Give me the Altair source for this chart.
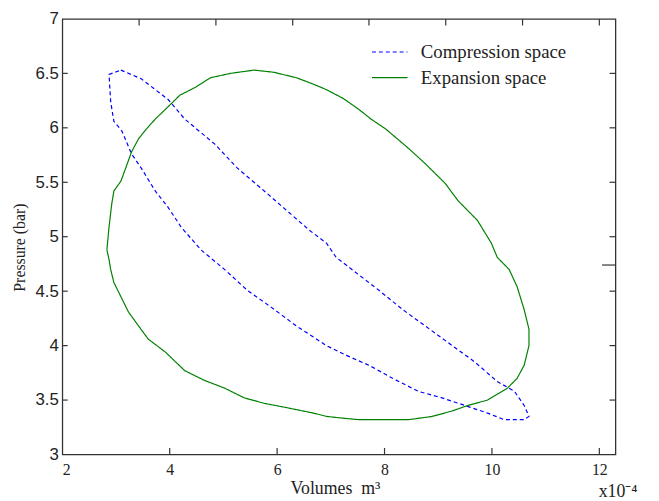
import altair as alt
import pandas as pd

# Compression space loop (volume x1e-4 m^3, pressure bar)
comp_v = [3.09, 3.47, 3.97, 4.28, 4.84, 5.26, 5.76, 6.18, 6.60, 6.92, 7.10, 7.47, 7.89, 8.34,
          8.76, 9.26, 9.68, 10.10, 10.42, 10.60, 10.69, 10.60, 10.23, 9.92, 9.50, 9.07, 8.63,
          8.15, 7.71, 7.29, 6.92, 6.36, 5.87, 5.44, 5.02, 4.58, 4.21, 3.97, 3.73, 3.47, 3.29,
          3.11, 2.96, 2.90, 2.87, 3.09]
comp_p = [6.53, 6.45, 6.26, 6.08, 5.85, 5.63, 5.42, 5.24, 5.06, 4.94, 4.81, 4.67, 4.51, 4.33,
          4.18, 4.00, 3.85, 3.67, 3.58, 3.45, 3.35, 3.32, 3.32, 3.38, 3.45, 3.52, 3.58,
          3.70, 3.82, 3.91, 4.00, 4.18, 4.36, 4.51, 4.70, 4.88, 5.09, 5.27, 5.42, 5.63, 5.76,
          5.97, 6.06, 6.24, 6.49, 6.53]

# Expansion space loop
exp_v = [2.83, 2.87, 2.92, 2.96, 3.09, 3.18, 3.29, 3.42, 3.55, 3.73, 3.92, 4.19, 4.47, 4.76,
         5.13, 5.57, 5.94, 6.36, 6.68, 6.92, 7.23, 7.52, 7.75, 8.02, 8.45, 8.76, 9.13, 9.37,
         9.73, 9.99, 10.10, 10.32, 10.47, 10.60, 10.69, 10.69, 10.60, 10.47, 10.29, 9.92, 9.55,
         9.26, 8.89, 8.45, 8.02, 7.52, 7.10, 6.92, 6.68, 6.18, 5.76, 5.39, 5.02, 4.65, 4.28,
         3.92, 3.60, 3.42, 3.23, 3.09, 2.96, 2.90, 2.87, 2.83]
exp_p = [4.88, 5.09, 5.30, 5.42, 5.51, 5.63, 5.78, 5.90, 5.98, 6.08, 6.17, 6.30, 6.37, 6.46,
         6.50, 6.53, 6.51, 6.46, 6.40, 6.35, 6.27, 6.17, 6.08, 5.99, 5.81, 5.67, 5.49, 5.33,
         5.15, 4.94, 4.81, 4.70, 4.54, 4.33, 4.15, 4.00, 3.82, 3.70, 3.61, 3.50, 3.45,
         3.40, 3.35, 3.32, 3.32, 3.32, 3.34, 3.35, 3.38, 3.43, 3.47, 3.52, 3.61, 3.68, 3.77,
         3.94, 4.06, 4.18, 4.31, 4.45, 4.58, 4.70, 4.79, 4.88]

series_names = ["Compression space", "Expansion space"]
series_colors = ["#0000ff", "#008000"]

x_ticks = [2, 4, 6, 8, 10, 12]
y_ticks = [3, 3.5, 4, 4.5, 5, 5.5, 6, 6.5, 7]
top_ticks = [3.43, 4.86, 6.29, 7.71, 9.14, 10.57, 12]
inner_y_ticks = [3.5, 4, 4.5, 5, 5.5, 6, 6.5]
bottom_ticks = [4, 6, 8, 10, 12]
x_min, x_max = 2, 12.3
y_min, y_max = 3, 7
stray_tick_p = 4.74

rows = []
for i, (v, p) in enumerate(zip(comp_v, comp_p)):
    rows.append({"series": series_names[0], "i": i, "v": v, "p": p})
for i, (v, p) in enumerate(zip(exp_v, exp_p)):
    rows.append({"series": series_names[1], "i": i, "v": v, "p": p})
df = pd.DataFrame(rows)

tick_rows = []
for y in inner_y_ticks:
    tick_rows.append({"x0": x_min, "x1": x_min + 0.1, "y0": y, "y1": y})
    tick_rows.append({"x0": x_max - 0.11, "x1": x_max, "y0": y, "y1": y})
for x in bottom_ticks:
    tick_rows.append({"x0": x, "x1": x, "y0": y_min, "y1": y_min + 0.06})
for x in top_ticks:
    tick_rows.append({"x0": x, "x1": x, "y0": y_max - 0.06, "y1": y_max})
tick_rows.append({"x0": x_max - 0.25, "x1": x_max, "y0": stray_tick_p, "y1": stray_tick_p})
ticks_df = pd.DataFrame(tick_rows)

xscale = alt.Scale(domain=[x_min, x_max], nice=False, zero=False)
yscale = alt.Scale(domain=[y_min, y_max], nice=False, zero=False)

x_axis = alt.Axis(values=x_ticks, title="Volumes\u00a0\u00a0m³", grid=False, ticks=False,
                  tickSize=0, domain=False, labelFont="Liberation Serif", labelFontSize=16,
                  labelColor="#222", labelPadding=7, titleFont="Liberation Serif",
                  titleFontSize=18, titleFontWeight="normal", titleColor="#222",
                  titleX=276, titleY=34, titleBaseline="middle")
y_axis = alt.Axis(values=y_ticks, format=".1~f", title="Pressure (bar)", grid=False,
                  ticks=False, tickSize=0, domain=False, labelFont="Liberation Sans",
                  labelFontSize=17, labelColor="#222", labelPadding=4,
                  titleFont="Liberation Serif", titleFontSize=16,
                  titleFontWeight="normal", titleColor="#222",
                  titleX=-43, titleY=231, titleBaseline="middle")

legend_cfg = dict(orient="none", legendX=322, legendY=24, title=None,
                  symbolType="M-3,0H3", symbolSize=144, symbolStrokeWidth=1.2,
                  labelFont="Liberation Serif", labelFontSize=19, labelColor="#222",
                  labelOffset=22, rowPadding=6, padding=0)

lines = alt.Chart(df).mark_line(strokeWidth=1.2).encode(
    x=alt.X("v:Q", scale=xscale, axis=x_axis),
    y=alt.Y("p:Q", scale=yscale, axis=y_axis),
    color=alt.Color("series:N", scale=alt.Scale(domain=series_names, range=series_colors),
                    legend=alt.Legend(**legend_cfg)),
    strokeDash=alt.StrokeDash("series:N",
                              scale=alt.Scale(domain=series_names, range=[[4, 3], [1, 0]]),
                              legend=alt.Legend(**legend_cfg)),
    order="i:Q",
    detail="series:N",
)

tick_layer = alt.Chart(ticks_df).mark_rule(color="#333", strokeWidth=1.2).encode(
    x=alt.X("x0:Q", scale=xscale, axis=x_axis),
    x2="x1:Q",
    y=alt.Y("y0:Q", scale=yscale, axis=y_axis),
    y2="y1:Q",
)

exp_label = alt.Chart(pd.DataFrame({"t": ["x10⁻⁴"]})).mark_text(
    font="Liberation Serif", fontSize=18, color="#222", align="left", baseline="middle"
).encode(text="t:N", x=alt.value(543), y=alt.value(479))

chart = alt.layer(lines, tick_layer, exp_label).properties(
    width=560, height=441,
    autosize=alt.AutoSizeParams(type="none"),
    padding={"left": 55, "top": 8, "right": 36, "bottom": 44},
).configure_view(stroke="#333", strokeWidth=1.3)

chart.save("out.html", embed_options={"renderer": "svg", "actions": False})
